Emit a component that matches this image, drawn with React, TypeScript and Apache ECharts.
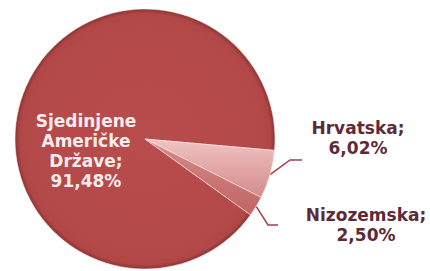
import React, { useEffect, useRef } from 'react';
import * as echarts from 'echarts';

const categories = ['Sjedinjene Američke Države', 'Hrvatska', 'Nizozemska'];
const labelNames = ['Sjedinjene\nAmeričke\nDržave;', 'Hrvatska;', 'Nizozemska;'];
const shares = [91.48, 6.02, 2.5];
const shareLabels = ['91,48%', '6,02%', '2,50%'];

// layout of labels (centre of text block) and label line elbows
const labelCenters = [[86, 151], [358, 138], [366, 225]];
const lineElbows = [null, [[290, 160], [302, 160]], [[268, 225], [278, 225]]];

const sliceColors: any[] = [
  {
    type: 'radial', x: 0.5, y: 0.5, r: 0.5,
    colorStops: [
      { offset: 0, color: '#B94C4C' },
      { offset: 0.9, color: '#B44949' },
      { offset: 0.965, color: '#B04646' },
      { offset: 1, color: '#8C3434' },
    ],
  },
  {
    type: 'linear', x: 0, y: 0, x2: 0, y2: 1,
    colorStops: [
      { offset: 0, color: '#F0C4C4' },
      { offset: 0.5, color: '#E3A6A6' },
      { offset: 1, color: '#D08C8C' },
    ],
  },
  {
    type: 'linear', x: 0, y: 0, x2: 0, y2: 1,
    colorStops: [
      { offset: 0, color: '#D88A8A' },
      { offset: 1, color: '#C06464' },
    ],
  },
];

export default function App() {
  const ref = useRef<HTMLDivElement>(null);
  useEffect(() => {
    document.body.style.margin = '0';
    const chart = echarts.init(ref.current!, null, { renderer: 'svg' });
    const data = categories.map((name, i) => ({
      name,
      value: shares[i],
      itemStyle: { color: sliceColors[i] },
      label: i === 0
        ? { position: 'inside', color: '#FAEDED' }
        : { position: 'outside', color: '#5E2A36' },
      labelLine: { show: i !== 0 },
    }));
    chart.setOption({
      animation: false,
      series: [
        {
          type: 'pie',
          center: [145, 139],
          radius: 130,
          startAngle: 324.3,
          clockwise: true,
          avoidLabelOverlap: false,
          itemStyle: { borderColor: 'rgba(255,235,235,0.55)', borderWidth: 1 },
          label: {
            show: true,
            fontFamily: 'DejaVu Sans',
            fontWeight: 'bold',
            fontSize: 17,
            lineHeight: 20,
            align: 'center',
            formatter: (p: any) => labelNames[p.dataIndex] + '\n' + shareLabels[p.dataIndex],
          },
          labelLine: {
            show: true,
            length: 12,
            length2: 10,
            lineStyle: { color: '#A0404C', width: 1.5 },
          },
          labelLayout: (params: any) => {
            const i = params.dataIndex;
            const c = labelCenters[i];
            const res: any = { x: c[0], y: c[1], align: 'center', verticalAlign: 'middle' };
            const elbow = lineElbows[i];
            if (elbow && params.labelLinePoints) {
              res.labelLinePoints = [params.labelLinePoints[0], elbow[0], elbow[1]];
            }
            return res;
          },
          data,
        },
      ],
    });
    return () => chart.dispose();
  }, []);
  return <div ref={ref} style={{ width: 430, height: 271 }} />;
}
